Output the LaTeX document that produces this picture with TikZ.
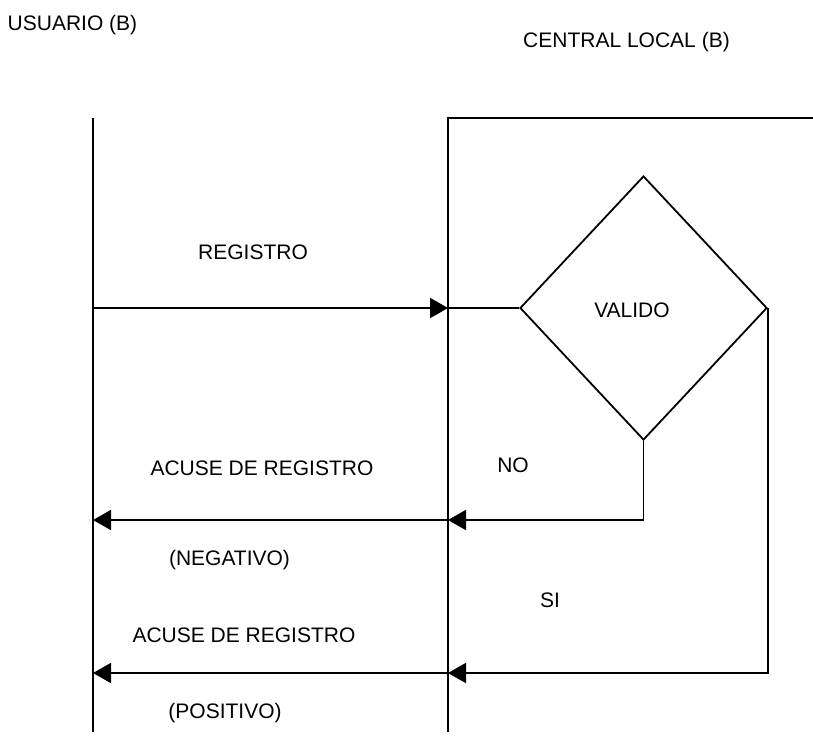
\documentclass[tikz,border=0pt]{standalone}
\usepackage{fontspec}
\setmainfont{Liberation Sans}
\usetikzlibrary{arrows.meta,shapes.geometric}
\tikzset{
  flecha/.style={-{Triangle[length=18pt,width=20pt]}},
  etiqueta/.style={inner sep=0pt,font=\fontsize{21}{24}\selectfont},
  rombo/.style={draw,diamond,inner sep=0pt,minimum width=247pt,minimum height=264pt}
}
\begin{document}
\begin{tikzpicture}[x=1pt,y=-1pt,line width=1.8pt]
                    \useasboundingbox (0,0) rectangle (813,745);
                    \coordinate (Ut) at (93,118);
                    \coordinate (Ub) at (93,732);
                    \coordinate (Ct) at (448,118);
                    \coordinate (Cb) at (448,732);
                    \coordinate (E) at (813,118);
                    \coordinate (Ur) at (93,308);
                    \coordinate (Cr) at (448,308);
                    \coordinate (Un) at (93,520);
                    \coordinate (Cn) at (448,520);
                    \coordinate (Up) at (93,673);
                    \coordinate (Cp) at (448,673);

                    \node[etiqueta] (usu) at (72.5,25) {USUARIO (B)};
                    \node[etiqueta] (cen) at (626.5,42) {CENTRAL LOCAL (B)};
                    \node[rombo] (val) at (643.5,308) {};

                    \draw (Ut)-- (Ub);
                    \draw (Cb)-- (Ct)-- (E);

                    \draw[flecha] (Ur)-- (Cr);
                    \draw (Cr)-- (val.west);
                    \draw[flecha] (val.south) |- (Cn);
                    \draw[flecha] (Cn)-- (Un);
                    \draw[flecha] (val.east) |- (Cp);
                    \draw[flecha] (Cp)-- (Up);

                    \node[etiqueta] (vtx) at (632,310) {VALIDO};
                    \node[etiqueta] (reg) at (253,252) {REGISTRO};
                    \node[etiqueta] (acn) at (262,468) {ACUSE DE REGISTRO};
                    \node[etiqueta] (neg) at (229.5,560) {(NEGATIVO)};
                    \node[etiqueta] (no) at (513,465) {NO};
                    \node[etiqueta] (si) at (550,600) {SI};
                    \node[etiqueta] (acp) at (244,635) {ACUSE DE REGISTRO};
                    \node[etiqueta] (pos) at (225,713) {(POSITIVO)};
                \end{tikzpicture}
\end{document}
